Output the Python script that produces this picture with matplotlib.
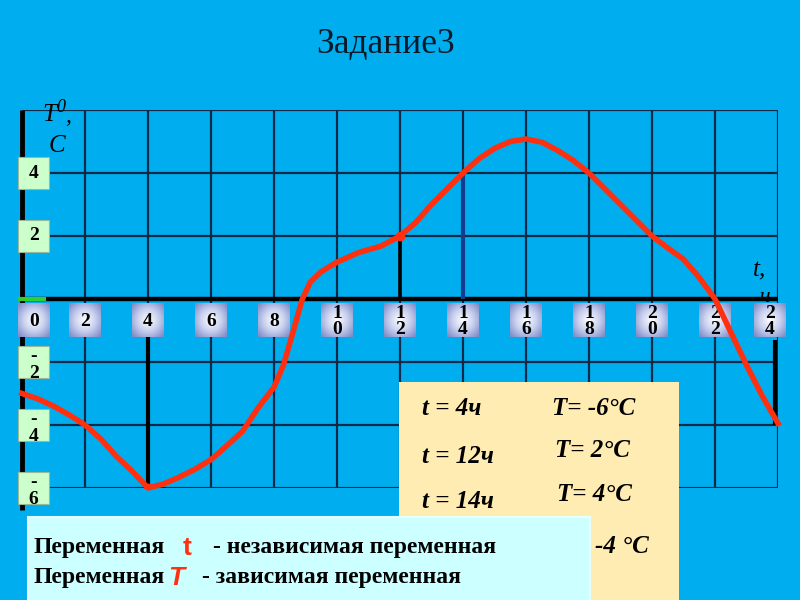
import matplotlib
matplotlib.use('Agg')
import matplotlib.pyplot as plt
import numpy as np
from matplotlib.colors import LinearSegmentedColormap
from matplotlib.patches import Rectangle

plt.rcParams.update({'font.family': 'Liberation Serif'})

# temperature curve (t in hours, T in degrees)
hours = [0, 0.5, 1, 1.5, 2, 2.5, 3, 3.5, 4, 4.5, 5, 5.5, 6, 6.5, 7, 7.5, 8,
         8.3, 8.6, 8.9, 9.15, 9.5, 10, 10.7, 11.4, 12, 12.5, 13, 13.5, 14,
         14.5, 15, 15.5, 16, 16.5, 17, 17.5, 18, 18.5, 19, 19.5, 20, 20.5, 21,
         21.5, 22, 22.5, 23, 23.5, 24]
temps = [-3.0, -3.17, -3.4, -3.68, -4.0, -4.44, -5.0, -5.47, -6.0, -5.87, -5.65,
         -5.4, -5.1, -4.66, -4.2, -3.45, -2.8, -2.1, -1.06, 0.0, 0.53, 0.87,
         1.17, 1.48, 1.68, 2.0, 2.43, 3.0, 3.5, 4.0, 4.45, 4.78, 5.0, 5.08,
         4.98, 4.72, 4.4, 4.0, 3.5, 3.0, 2.5, 2.0, 1.62, 1.26, 0.68, 0.0,
         -1.05, -2.1, -3.08, -3.95]

x_ticks = list(range(0, 25, 2))
y_ticks = [4, 2, -2, -4, -6]
y_grid = [6, 4, 2, -2, -4, -6]

# rows of the answer table (last row is mostly hidden under the note box)
table_t = [4, 12, 14, 24]
table_T = [-6, 2, 4, -4]

BG = '#00AEEF'
GRID = '#0B2A48'
RED = '#FF3010'

fig = plt.figure(figsize=(8, 6), dpi=100, facecolor=BG)
ax = fig.add_axes([22 / 800, 112 / 600, 756 / 800, 378 / 600])
ax.set_axis_off()

# grid
ax.vlines(x_ticks, -6, 6, color=GRID, lw=1.6, zorder=1)
ax.hlines(y_grid, 0, 24, color=GRID, lw=1.6, zorder=1)
ax.hlines(0, 0, 24, color='black', lw=3.2, zorder=2)
ax.vlines(0, -6.7, 6, color='black', lw=3.5, zorder=2, clip_on=False)
ax.plot([-0.12, 0.75], [0, 0], color='#33CC33', lw=3, zorder=2.5,
        solid_capstyle='butt', clip_on=False)

# drop lines to the table points
ax.vlines(table_t[0], -1.2, table_T[0], color='black', lw=3, zorder=2)
ax.vlines(table_t[1], 0, table_T[1], color='black', lw=2.6, zorder=2)
ax.vlines(table_t[2], 0, table_T[2], color='#123C8C', lw=3, zorder=2)
ax.vlines(table_t[3] - 0.1, -1.3, table_T[3], color='black', lw=3, zorder=2)

# x tick boxes with radial gradient
yy, xx = np.mgrid[-1:1:64j, -1:1:64j]
grad = np.sqrt(xx ** 2 + yy ** 2)
cmap = LinearSegmentedColormap.from_list('box', ['#FFFFFF', '#C8D0EE', '#7F8CC8'])
for t in x_ticks:
    cx = t + (0.37 if t == 0 else (-0.25 if t == 24 else 0))
    ax.imshow(grad, extent=(cx - 0.5, cx + 0.5, -1.22, -0.17), cmap=cmap,
              vmin=0, vmax=1.35, aspect='auto', interpolation='bilinear',
              zorder=3, clip_on=False)
    lbl = str(t) if t < 10 else '\n'.join(str(t))
    ax.text(cx, -0.72, lbl, ha='center', va='center', fontsize=14,
            fontweight='bold', linespacing=0.95, zorder=4, clip_on=False)

# y tick boxes
for v in y_ticks:
    ax.add_patch(Rectangle((-0.13, v - 0.5), 0.99, 1.0, facecolor='#CCFFCC',
                           edgecolor='#9AB89A', lw=0.8, zorder=3, clip_on=False))
    lbl = str(v) if v > 0 else '-\n' + str(-v)
    ax.text(0.37, v - (0.1 if v < 0 else 0), lbl, ha='center', va='center',
            fontsize=14, fontweight='bold', linespacing=1.0, zorder=4,
            clip_on=False)

# curve
ax.plot(hours, temps, color=RED, lw=4, solid_joinstyle='round', zorder=5,
        clip_on=False)
ax.plot([4, 12], [-6, 2], 'o', color=RED, ms=6, zorder=5)

# axis names
ax.text(0.65, 5.65, 'T', fontsize=18, style='italic', ha='left', va='baseline',
        clip_on=False)
ax.text(1.1, 5.95, '0', fontsize=13, style='italic', ha='left', va='baseline',
        clip_on=False)
ax.text(1.38, 5.62, ',', fontsize=17, style='italic', ha='left', va='baseline',
        clip_on=False)
ax.text(0.83, 4.67, 'C', fontsize=18, style='italic', ha='left', va='baseline',
        clip_on=False)
ax.text(23.2, 0.73, 't,', fontsize=18, style='italic', ha='left', va='baseline',
        clip_on=False)
ax.text(23.4, -0.1, 'ч', fontsize=16, style='italic', ha='left', va='baseline',
        zorder=1.5, clip_on=False)

# answer table
ax.add_patch(Rectangle((11.97, -9.6), 8.9, 6.97, facecolor='#FFECB3',
                       edgecolor='none', zorder=6, clip_on=False))
t_y = [-3.49, -5.0, -6.42]
T_y = [-3.49, -4.8, -6.22]
T_x = [16.82, 16.92, 16.98]
for i in range(3):
    ax.text(12.7, t_y[i], f't = {table_t[i]}ч', fontsize=18, style='italic',
            fontweight='bold', ha='left', va='center', zorder=7, clip_on=False)
    ax.text(T_x[i], T_y[i], f'T= {table_T[i]}°C', fontsize=18, style='italic',
            fontweight='bold', ha='left', va='center', zorder=7, clip_on=False)
# only the value of the last row shows past the note box
ax.text(18.2, -7.85, f'{table_T[3]} °C', fontsize=18, style='italic',
        fontweight='bold', ha='left', va='center', zorder=7, clip_on=False)

# note box
ax.add_patch(Rectangle((0.19, -9.6), 17.84, 2.68, facecolor='#CCFFFF',
                       edgecolor='#E8FFFF', lw=1.5, zorder=8, clip_on=False))
ax.text(0.38, -7.9, 'Переменная', fontsize=17, fontweight='bold', ha='left',
        va='center', zorder=9, clip_on=False)
ax.text(5.1, -7.9, 't', fontsize=19, fontweight='bold', color=RED, ha='left',
        va='center', family='Liberation Sans', zorder=9, clip_on=False)
ax.text(6.05, -7.9, '- независимая переменная', fontsize=17, fontweight='bold',
        ha='left', va='center', zorder=9, clip_on=False)
ax.text(0.38, -8.85, 'Переменная', fontsize=17, fontweight='bold', ha='left',
        va='center', zorder=9, clip_on=False)
ax.text(4.63, -8.85, 'T', fontsize=19, fontweight='bold', style='italic',
        color=RED, ha='left', va='center', family='Liberation Sans', zorder=9,
        clip_on=False)
ax.text(5.7, -8.85, '- зависимая переменная', fontsize=17, fontweight='bold',
        ha='left', va='center', zorder=9, clip_on=False)

ax.set_xlim(0, 24)
ax.set_ylim(-6, 6)

fig.text(386 / 800, 1 - 45 / 600, 'Задание3', fontsize=25.5, ha='center',
         va='center', color='#0A1A2A')

fig.savefig('out.png', dpi=100, facecolor=BG)
